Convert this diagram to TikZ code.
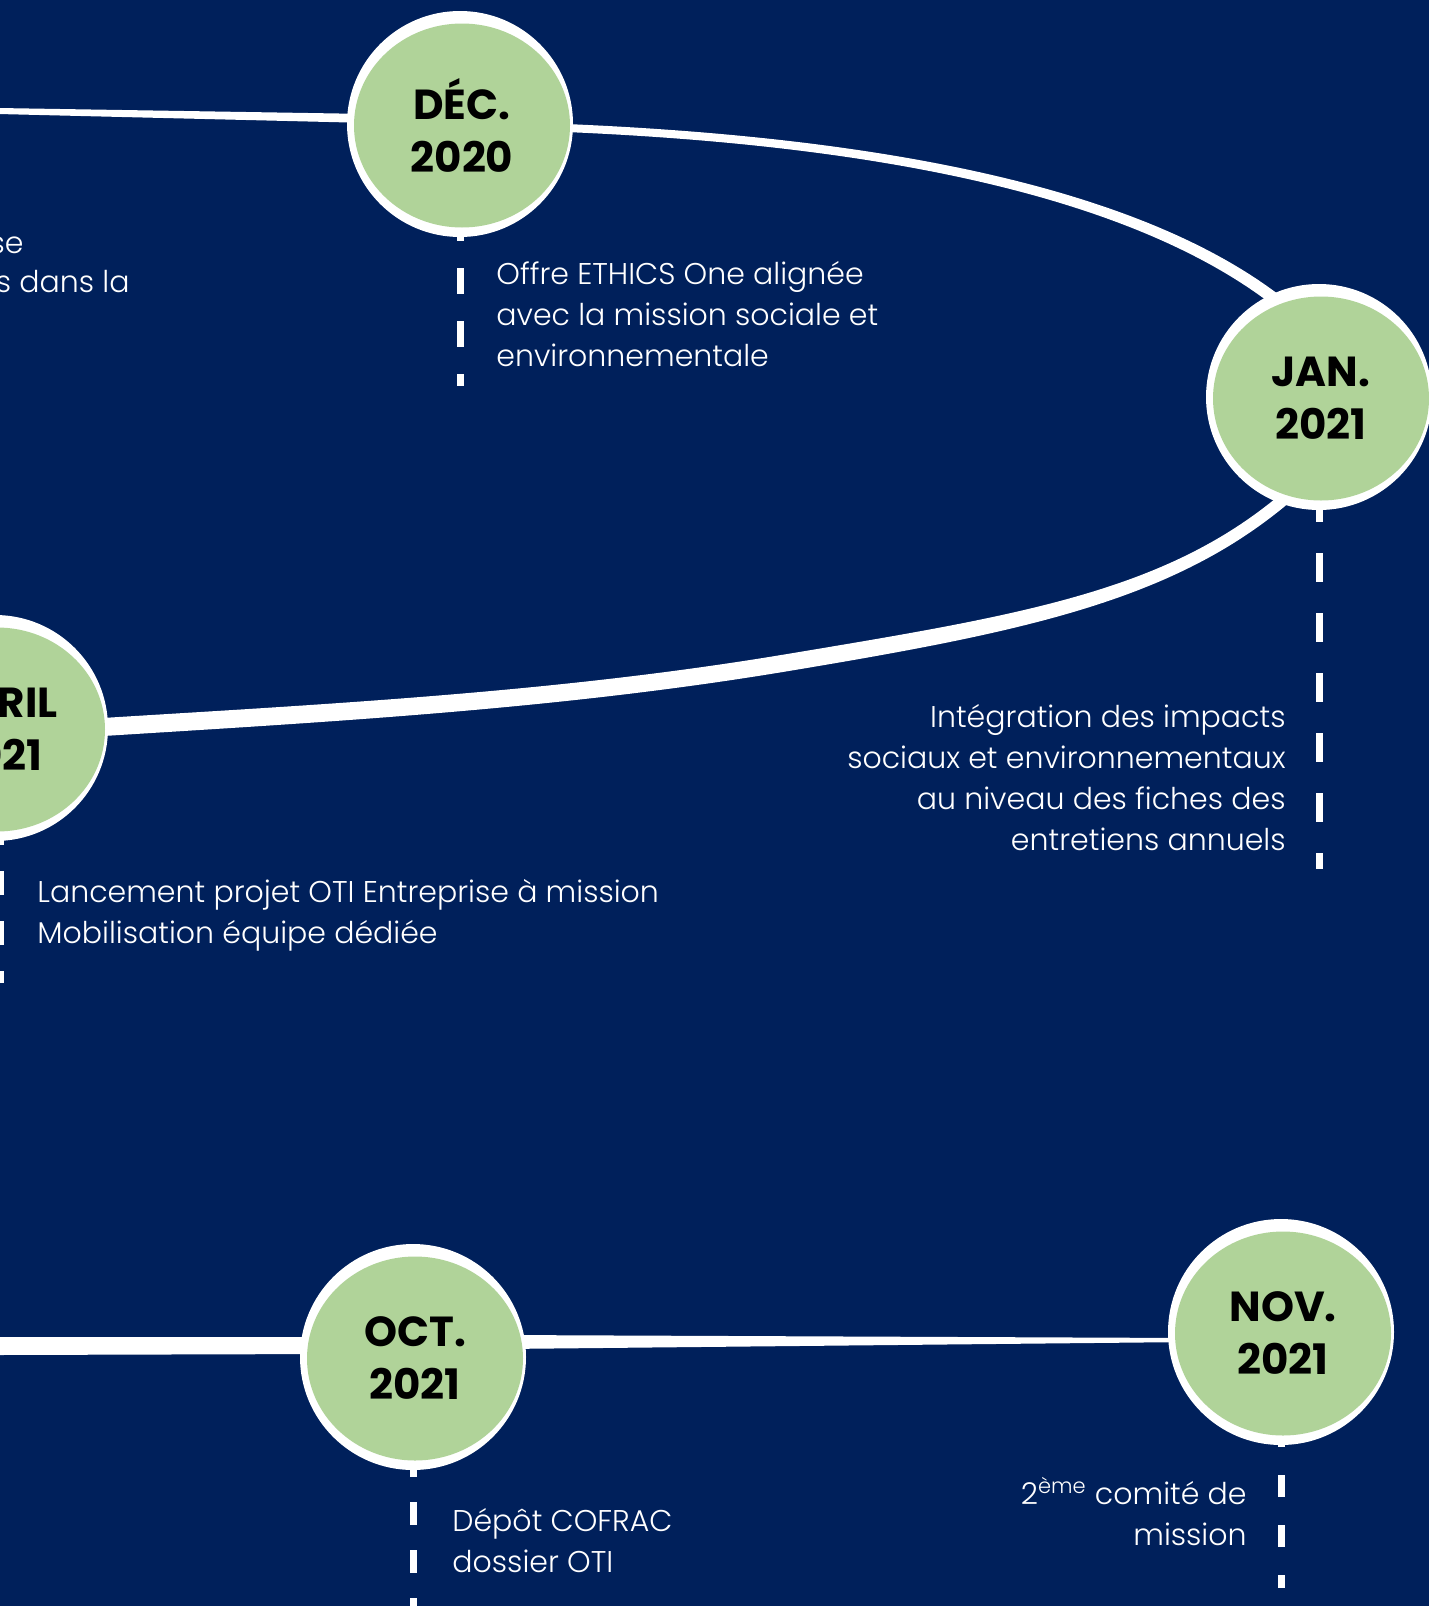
\documentclass[tikz,border=0pt]{standalone}
\usepackage{fontspec}
\usetikzlibrary{shapes.geometric,calc}
\newfontfamily\bodyfont{Poppins Light}
\newfontfamily\datefont{Poppins Bold}
\definecolor{navy}{RGB}{0,32,91}
\definecolor{leaf}{RGB}{176,211,153}
\pgfdeclarelayer{back}
\pgfdeclarelayer{lines}
\pgfsetlayers{back,lines,main}
\tikzset{
  ring/.style={circle,fill=white,minimum size=113pt,inner sep=0pt},
  dot/.style={ellipse,fill=leaf,minimum width=108pt,minimum height=102pt,inner sep=0pt,
    align=center,text=black,font=\datefont\fontsize{21}{26.5}\selectfont},
  note/.style={text=white,inner sep=0pt,font=\bodyfont\fontsize{15}{20.5}\selectfont},
  dashline/.style={draw=white,line width=3.5pt},
  band/.style={fill=white},
}
\begin{document}
\begin{tikzpicture}[x=0.5pt,y=-0.5pt]
\useasboundingbox (0,0) rectangle (1429,1606);
\clip (0,0) rectangle (1429,1606);
\begin{pgfonlayer}{back}
\fill[navy] (0,0) rectangle (1429,1606);
\end{pgfonlayer}

% date circles
\node[ring] (dec) at (460,124) {};
\node[dot]  (decg) at (462,125.5) {DÉC.\\2020};
\node[ring] (jan) at (1319,397) {};
\node[dot]  (jang) at (1321,398.5) {JAN.\\2021};
\node[ring] (apr) at (-5,728) {};
\node[dot]  (aprg) at (-3,729.5) {AVRIL\\2021};
\node[ring] (oct) at (413,1357) {};
\node[dot]  (octg) at (415,1358.5) {OCT.\\2021};
\node[ring] (nov) at (1281,1332) {};
\node[dot]  (novg) at (1283,1333.5) {NOV.\\2021};

% free ends
\coordinate (leftA) at (-2,111);
\coordinate (leftB) at (-2,1346);
\coordinate (decend) at (460,386);
\coordinate (janend) at (1319,869);
\coordinate (aprend) at (0.5,983);
\coordinate (octend) at (413,1625);
\coordinate (novend) at (1281,1588);

\begin{pgfonlayer}{lines}
% timeline bands
\fill[band] ($(leftA)+(0,-3)$) -- ($(dec.center)+(-90,-10)$) -- ($(dec.center)+(-90,-1)$) -- ($(leftA)+(0,3)$) -- cycle;
\fill[band] ($(dec.center)+(80,-1)$) .. controls (850,134) and (1154,180.5) .. ($(jan.center)+(-15,-81.5)$)
  -- ($(jan.center)+(-23,-72.5)$) .. controls (1146,189.5) and (850,142) .. ($(dec.center)+(80,7)$) -- cycle;
\fill[band] ($(jan.center)+(-25,85.6)$) .. controls (1175.6,589.8) and (1030.2,613.6) .. (783.6,654.6)
  .. controls (537,695.6) and (288.9,705.8) .. ($(apr.center)+(44.4,-6)$)
  -- ($(apr.center)+(45.6,12)$) .. controls (290.1,723.8) and (539.8,712.4) .. (786.4,671.4)
  .. controls (1033,630.4) and (1183.6,598.6) .. ($(jan.center)+(-17,94.4)$) -- cycle;
\fill[band] ($(leftB)+(0,-9)$) -- ($(oct.center)+(-80,-20)$) -- ($(oct.center)+(-80,-3)$) -- ($(leftB)+(0,9)$) -- cycle;
\fill[band] ($(oct.center)+(90,-22)$) -- ($(nov.center)+(-90,6)$) -- ($(nov.center)+(-90,10)$) -- ($(oct.center)+(90,-8)$) -- cycle;
% dashed drops
\draw[dashline,dash pattern=on 13pt off 13.5pt,dash phase=7.5pt] (dec.center) -- (decend);
\draw[dashline,dash pattern=on 14.5pt off 15.5pt,dash phase=12pt] (jan.center) -- (janend);
\draw[dashline,dash pattern=on 12pt off 13pt,dash phase=3.5pt] (aprend |- apr.center) -- (aprend);
\draw[dashline,dash pattern=on 11.5pt off 12.5pt,dash phase=23.5pt] (oct.center) -- (octend);
\draw[dashline,dash pattern=on 11pt off 14pt,dash phase=3.5pt] (nov.center) -- (novend);
\end{pgfonlayer}

% texts (base anchor = baseline of the last line)
\node[note,anchor=base east] (t0a) at (24,253) {se};
\node[note,anchor=base east] (t0b) at (130,292) {s dans la};
\node[note,anchor=base west,align=left] (tdec) at (496,366) {Offre ETHICS One alignée\\avec la mission sociale et\\environnementale};
\node[note,anchor=base east,align=right] (tjan) at (1286,850) {Intégration des impacts\\sociaux et environnementaux\\au niveau des fiches des\\entretiens annuels};
\node[note,anchor=base west,align=left] (tapr) at (37,943) {Lancement projet OTI Entreprise à mission\\Mobilisation équipe dédiée};
\node[note,anchor=base west,align=left] (toct) at (452,1572) {Dépôt COFRAC\\dossier OTI};
\node[note,anchor=base east,align=right] (tnov) at (1247,1545) {2\textsuperscript{ème} comité de\\mission};
\end{tikzpicture}
\end{document}
